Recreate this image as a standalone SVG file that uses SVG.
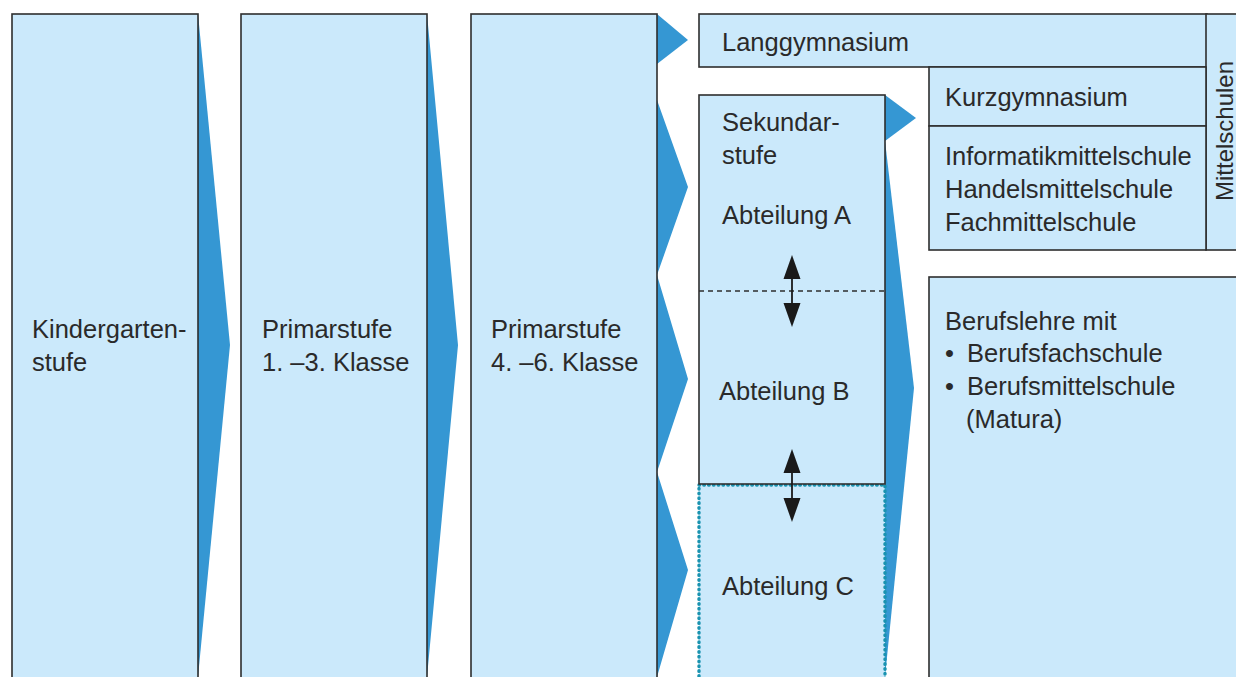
<svg xmlns="http://www.w3.org/2000/svg" width="1236" height="677" viewBox="0 0 1236 677">
<style>
.box{fill:#cbe9fb;stroke:#2e2e2e;stroke-width:1.6}
.arr{fill:#3597d3}
.t{font-family:"Liberation Sans",Arial,sans-serif;font-size:25.5px;fill:#2a2a2a}
.dash{stroke:#2e2e2e;stroke-width:1.6;stroke-dasharray:5 4;fill:none}
.dot{fill:#cbe9fb;stroke:#1a93b0;stroke-width:3.4;stroke-dasharray:0.6 4.2;stroke-linecap:round}
.dbl{stroke:#1a1a1a;stroke-width:1.8}
.head{fill:#1a1a1a}
</style>
<rect width="1236" height="677" fill="#ffffff"/>
<g id="connectors">
<polygon class="arr" points="198,14 230,345 198,677"/>
<polygon class="arr" points="427,14 458,345 427,677"/>
<polygon class="arr" points="657,14 688,40 657,64"/>
<polygon class="arr" points="657,100 688,187 657,275 688,379 657,472 688,570 657,677"/>
<polygon class="arr" points="885,95 916,118 885,141"/>
<polygon class="arr" points="885,141 914,388 885,677"/>
</g>
<g id="kindergarten">
<rect class="box" x="12" y="14" width="186" height="680"/>
<text class="t" x="32" y="338">Kindergarten-</text>
<text class="t" x="32" y="371">stufe</text>
</g>
<g id="primar13">
<rect class="box" x="241" y="14" width="186" height="680"/>
<text class="t" x="262" y="338">Primarstufe</text>
<text class="t" x="262" y="371">1. –3. Klasse</text>
</g>
<g id="primar46">
<rect class="box" x="471" y="14" width="186" height="680"/>
<text class="t" x="491" y="338">Primarstufe</text>
<text class="t" x="491" y="371">4. –6. Klasse</text>
</g>
<g id="langgymnasium">
<rect class="box" x="699" y="14" width="508" height="53"/>
<text class="t" x="722" y="51">Langgymnasium</text>
</g>
<g id="mittelschulen">
<rect class="box" x="1206" y="14" width="40" height="236"/>
<text class="t" transform="translate(1233,131) rotate(-90)" text-anchor="middle" style="font-size:24px">Mittelschulen</text>
</g>
<g id="kurzgymnasium">
<rect class="box" x="929" y="67" width="277" height="59"/>
<text class="t" x="945" y="106">Kurzgymnasium</text>
</g>
<g id="weitere-mittelschulen">
<rect class="box" x="929" y="126" width="277" height="124"/>
<text class="t" x="945" y="165">Informatikmittelschule</text>
<text class="t" x="945" y="198">Handelsmittelschule</text>
<text class="t" x="945" y="231">Fachmittelschule</text>
</g>
<g id="abteilung-c">
<rect class="dot" x="699" y="485" width="186" height="200"/>
<text class="t" x="722" y="595">Abteilung C</text>
</g>
<g id="sekundarstufe">
<rect class="box" x="699" y="95" width="186" height="389"/>
<line class="dash" x1="699" y1="291" x2="885" y2="291"/>
<text class="t" x="722" y="131">Sekundar-</text>
<text class="t" x="722" y="164">stufe</text>
<text class="t" x="722" y="224">Abteilung A</text>
<text class="t" x="719" y="400">Abteilung B</text>
</g>
<g id="wechsel">
<line class="dbl" x1="792" y1="272" x2="792" y2="310"/>
<polygon class="head" points="792,255 800.5,279 783.5,279"/>
<polygon class="head" points="792,327 800.5,303 783.5,303"/>
<line class="dbl" x1="792" y1="466" x2="792" y2="505"/>
<polygon class="head" points="792,449 800.5,473 783.5,473"/>
<polygon class="head" points="792,522 800.5,498 783.5,498"/>
</g>
<g id="berufslehre">
<rect class="box" x="929" y="277" width="320" height="410"/>
<text class="t" x="945" y="330">Berufslehre mit</text>
<text class="t" x="945" y="362">•</text>
<text class="t" x="967" y="362">Berufsfachschule</text>
<text class="t" x="945" y="395">•</text>
<text class="t" x="967" y="395">Berufsmittelschule</text>
<text class="t" x="966" y="428">(Matura)</text>
</g>
</svg>
